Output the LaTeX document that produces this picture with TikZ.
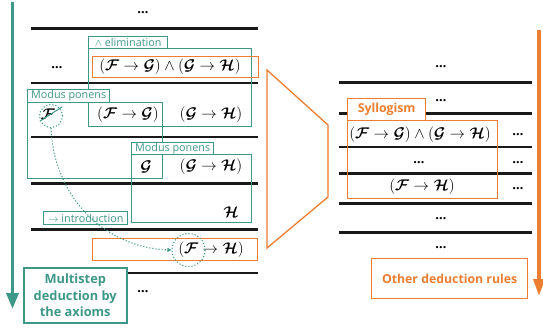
\RequirePackage{fix-cm}
\documentclass[tikz,border=0pt]{standalone}
\usepackage{amsmath,bm}
\usepackage[no-math]{fontspec}
\setmainfont{Open Sans}
\usetikzlibrary{arrows.meta}

\definecolor{tealc}{RGB}{62,152,136}
\definecolor{orngc}{RGB}{237,125,49}
\definecolor{rulec}{RGB}{25,25,25}

\newcommand{\calF}{\bm{\mathcal{F}}}
\newcommand{\calG}{\bm{\mathcal{G}}}
\newcommand{\calH}{\bm{\mathcal{H}}}

\tikzset{
  rulebar/.style={line width=2.8pt, rulec},
  tealframe/.style={draw=tealc, line width=1.3pt, anchor=north west, inner sep=0pt},
  tealtag/.style={tealframe, fill=white, text=tealc, font=\fontsize{10.8}{12}\selectfont},
  orngframe/.style={draw=orngc, line width=1.3pt, anchor=north west, inner sep=0pt},
  orngtag/.style={orngframe, fill=white, text=orngc, font=\bfseries\fontsize{12.3}{14}\selectfont},
  formula/.style={font=\fontsize{15.5}{17}\selectfont, inner sep=0pt},
  dots/.style={font=\bfseries\fontsize{13}{15}\selectfont, inner sep=0pt},
  ring/.style={circle, draw=tealc, line width=1.1pt, dotted, inner sep=0pt},
}

\begin{document}
\begin{tikzpicture}[x=1pt, y=-1pt]
\useasboundingbox (0,0) rectangle (543,327);

% ---------- left column: multistep derivation ----------
\foreach \yy in {28.5, 83, 137, 183.5, 229.5, 273}
  \draw[rulebar] (31,\yy) -- (258,\yy);

\node[dots] (ld1) at (143,13) {\ldots};
\node[dots] (ld2) at (57,68) {\ldots};
\node[dots] (ld3) at (143,292) {\ldots};

% and-elimination step
\node[tealframe, minimum width=163, minimum height=78] (elimbox) at (88,48) {};
\node[tealtag, minimum width=79, minimum height=12] (elimtag) at (88,36) {$\wedge$ elimination};
\node[orngframe, minimum width=166, minimum height=21] (conjA) at (92,56) {};
\node[formula] (fconjA) at (170,67) {$(\calF\to\calG)\wedge(\calG\to\calH)$};

% first modus ponens
\node[tealframe, minimum width=135, minimum height=76] (mp1box) at (27,102) {};
\node[tealtag, minimum width=82, minimum height=13] (mp1tag) at (27,89) {Modus ponens};
\node[formula] (hypF) at (48,114.5) {$\calF$};
\node[formula] (fFG) at (128,115) {$(\calF\to\calG)$};
\node[formula] (fGH1) at (211,115) {$(\calG\to\calH)$};

% second modus ponens
\node[tealframe, minimum width=120, minimum height=68] (mp2box) at (131,154) {};
\node[tealtag, minimum width=82, minimum height=12] (mp2tag) at (131,142) {Modus ponens};
\node[formula] (fG) at (146,166.5) {$\calG$};
\node[formula] (fGH2) at (211,167) {$(\calG\to\calH)$};
\node[formula] (fH) at (231,212) {$\calH$};

% implication introduction
\node[tealtag, minimum width=84, minimum height=13] (introtag) at (43,211) {$\rightarrow$ introduction};
\node[orngframe, minimum width=165, minimum height=22] (concl) at (92,238) {};
\node[formula] (fFH) at (211,249.5) {$(\calF\to\calH)$};

% discharged hypothesis and its link to the conclusion
\node[ring, minimum size=23] (ringA) at (51,116) {};
\coordinate (slashA) at (40,121);
\coordinate (slashB) at (62,107);
\draw[tealc, line width=1pt] (slashA) -- (slashB);
\node[ring, minimum size=33] (ringB) at (188.5,250) {};
\draw[tealc, line width=1.1pt, dotted, -{Triangle[length=4pt,width=4pt]}]
  (ringA.south) .. controls (54,200) and (108,248) .. (ringB.west);

% caption and timeline arrow
\node[draw=tealc, line width=1.5pt, fill=white, text=tealc, anchor=north west,
      minimum width=103, minimum height=55, align=center, inner sep=0pt,
      font=\bfseries\fontsize{12.8}{16.5}\selectfont] (multi) at (23,267)
      {Multistep\\deduction by\\the axioms};
\coordinate (tealtop) at (12.5,2);
\coordinate (tealbot) at (12.5,309);
\draw[tealc, line width=3.5pt, -{Triangle[length=16pt,width=12pt]}] (tealtop) -- (tealbot);

% ---------- zoom funnel ----------
\coordinate (zA) at (267,70);
\coordinate (zB) at (328,125);
\coordinate (zC) at (328,197);
\coordinate (zD) at (267,248);
\draw[orngc, line width=1.3pt] (zA) -- (zB) -- (zC) -- (zD) -- cycle;

% ---------- right column: derived rule ----------
\foreach \yy in {82.5, 113.5, 147, 173.5, 203.5, 232.5}
  \draw[rulebar] (339,\yy) -- (532,\yy);

\node[dots] (rd1) at (441,67) {\ldots};
\node[dots] (rd2) at (441,101) {\ldots};
\node[dots] (rd3) at (518,135) {\ldots};
\node[dots] (rd4) at (419,163) {\ldots};
\node[dots] (rd5) at (518,163) {\ldots};
\node[dots] (rd6) at (518,189) {\ldots};
\node[dots] (rd7) at (441,219) {\ldots};
\node[dots] (rd8) at (441,248) {\ldots};

\node[orngframe, minimum width=150, minimum height=78] (sylbox) at (347,120) {};
\node[orngtag, minimum width=78, minimum height=22] (syltag) at (347,98) {Syllogism};
\node[formula] (rconj) at (420,135) {$(\calF\to\calG)\wedge(\calG\to\calH)$};
\node[formula] (rFH) at (422,187) {$(\calF\to\calH)$};

\node[orngtag, minimum width=156, minimum height=40] (other) at (371,258) {Other deduction rules};
\coordinate (orgtop) at (539,30);
\coordinate (orgbot) at (539,296);
\draw[orngc, line width=3.5pt, -{Triangle[length=17pt,width=11pt]}] (orgtop) -- (orgbot);
\end{tikzpicture}
\end{document}
